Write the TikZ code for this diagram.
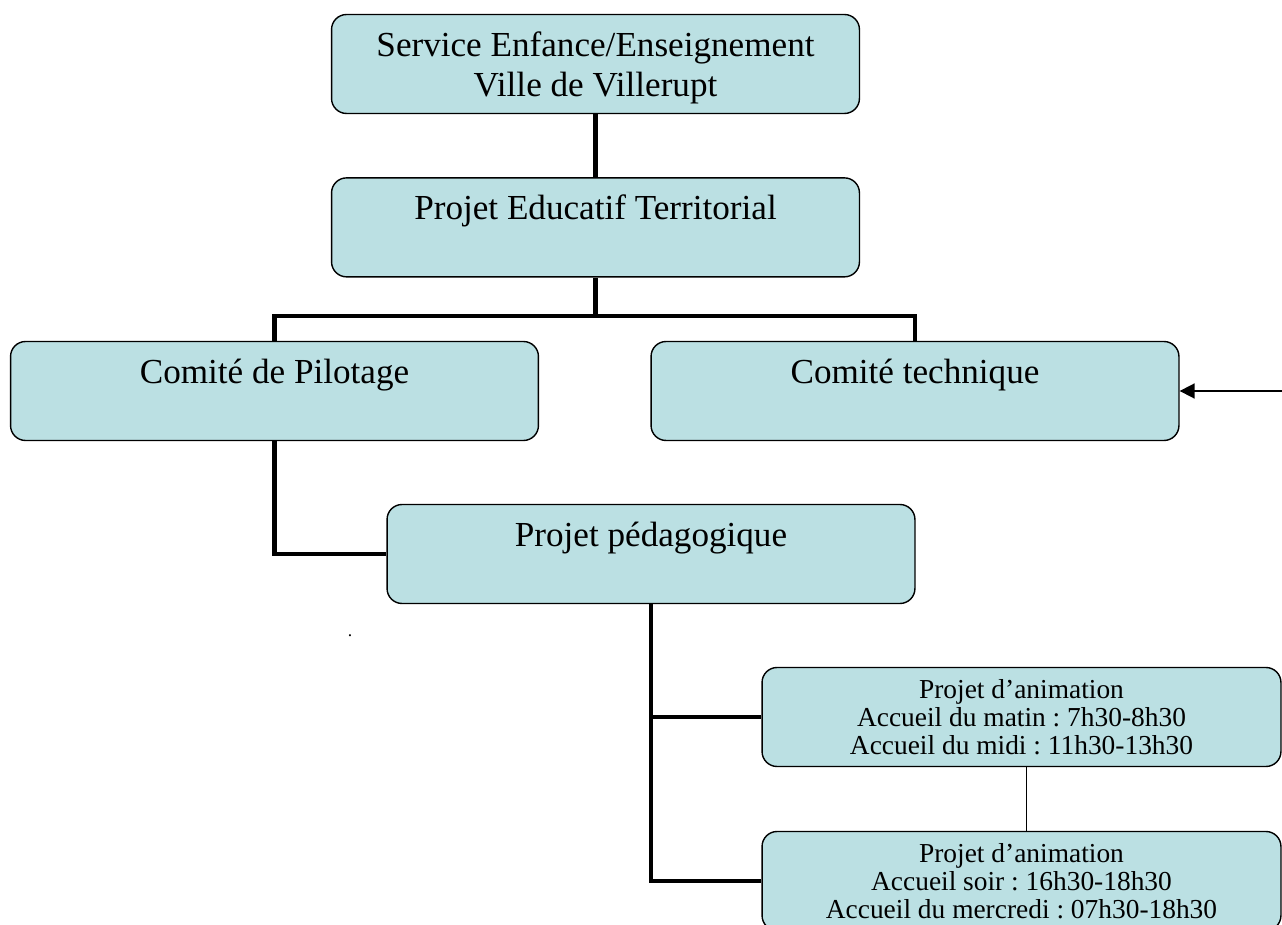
\documentclass[tikz,border=0pt]{standalone}
\usepackage{fontspec}
\setmainfont{Liberation Serif}
\frenchspacing
\usetikzlibrary{
  arrows.meta, % for the Triangle arrow tip
  positioning, % for relative positioning of the boxes
}
\definecolor{boxfill}{RGB}{187,224,227}
\tikzset{
  box/.style={ % style for each box
    rectangle,draw,rounded corners=0.3cm, % drawn as a rounded rectangle
    fill=boxfill, % light blue fill
    line width=0.8pt,
    minimum width=10.56cm, % every big box has the same size
    minimum height=1.98cm,
    inner sep=0pt,
  },
  smallbox/.style={ % style for the two lower boxes
    box, % inherit the box style
    minimum width=10.38cm,
  },
  lbl/.style={ % style for the texts in the big boxes
    align=center,inner sep=0pt,anchor=north,
    font=\fontsize{20}{23}\selectfont,
    yshift=-0.35cm, % text sits at the top of its box
  },
  smalllbl/.style={ % style for the texts in the lower boxes
    lbl, % inherit the lbl style
    font=\fontsize{15.6}{16}\selectfont,
    yshift=0.1cm,
  },
  conn/.style={ % style for the thick connections
    line width=2.8pt,
  },
  thinconn/.style={ % style for the thin connection
    line width=0.8pt,
  },
  arr/.style={ % style for the arrow
    -{Triangle[length=0.3cm,width=0.3cm]}, % filled triangle tip
    line width=1pt,
  },
}
\begin{document}
\begin{tikzpicture}[x=0.02cm, y=-0.02cm]
	\path[use as bounding box, clip] (0,0) rectangle (1282,925);
	
	\node[box] (sv) at (595.5,64) {};
	\node[lbl] (svt) at (sv.north) {Service Enfance/Enseignement\\Ville de Villerupt};
	
	\node[box] (pe) [below=1.26cm of sv] {};
	\node[lbl] (pet) at (pe.north) {Projet Educatif Territorial};
	
	\node[box] (cp) at (274.5,391) {};
	\node[lbl] (cpt) at (cp.north) {Comité de Pilotage};
	
	\node[box] (ct) at (915,391) {};
	\node[lbl] (ctt) at (ct.north) {Comité technique};
	
	\node[box] (pp) at (651,554) {};
	\node[lbl] (ppt) at (pp.north) {Projet pédagogique};
	
	\node[smallbox] (an1) at (1021.5,717) {};
	\node[smalllbl] (an1t) at (an1.north) {Projet d’animation\\Accueil du matin : 7h30-8h30\\Accueil du midi : 11h30-13h30};
	
	\node[smallbox] (an2) at (1021.5,881) {};
	\node[smalllbl] (an2t) at (an2.north) {Projet d’animation\\Accueil soir : 16h30-18h30\\Accueil du mercredi : 07h30-18h30};
	
	\node[font=\fontsize{10}{10}\selectfont, inner sep=0pt] (dot) at (350,636) {.};
	
	\coordinate (jn) at (595.5,316);
	\coordinate (src) at (1282,391);
	
	\draw[conn] (sv.south) -- (pe.north);
	\draw[conn] (pe.south) -- (jn);
	\draw[conn] (cp.north) |- (jn) -| (ct.north);
	\draw[conn] (cp.south) |- (pp.west);
	\draw[conn] (pp.south) |- (an1.west);
	\draw[conn] (pp.south) |- (an2.west);
	\draw[thinconn] ([xshift=0.1cm]an1.south) -- ([xshift=0.1cm]an2.north);
	\draw[arr] (src) -- (ct.east);
\end{tikzpicture}
\end{document}
